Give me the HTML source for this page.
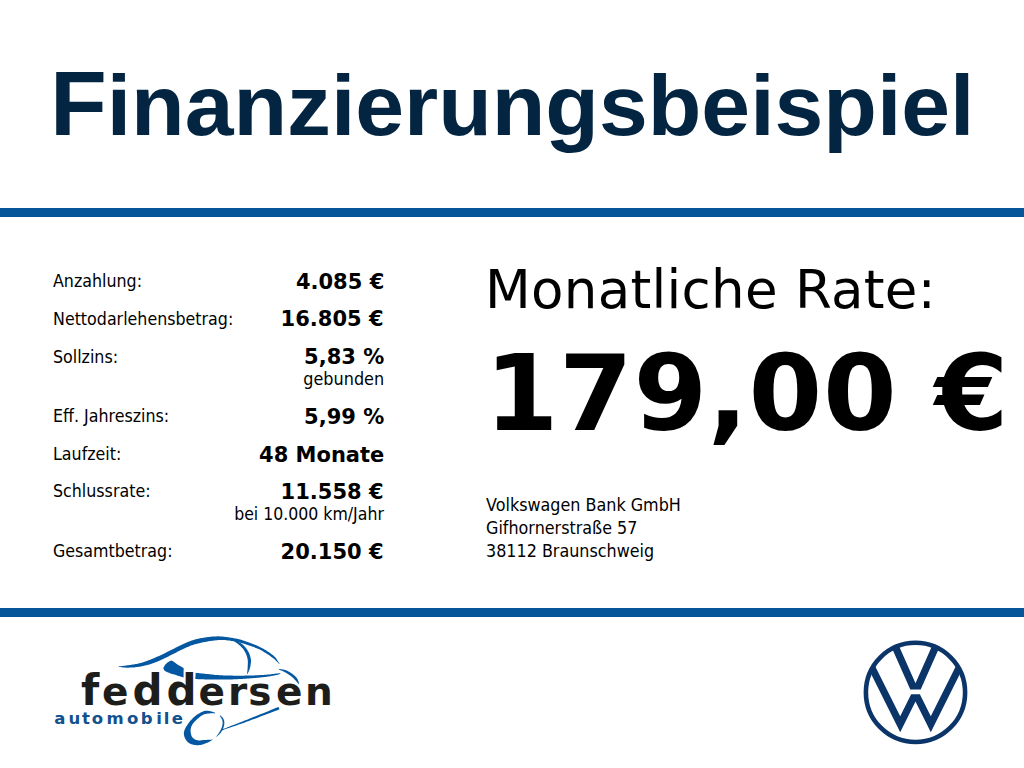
<!DOCTYPE html>
<html lang="de">
<head>
<meta charset="utf-8">
<title>Finanzierungsbeispiel</title>
<style>
html,body{margin:0;padding:0;background:#fff;}
body{width:1024px;height:768px;position:relative;overflow:hidden;font-family:"DejaVu Sans","Liberation Sans",sans-serif;color:#000;}
.abs{position:absolute;white-space:nowrap;line-height:1;}
#title{left:50px;top:58px;font-family:"Liberation Sans",Arial,sans-serif;font-size:86px;font-weight:700;color:#032542;transform:scaleX(1.0201);transform-origin:6px 0;}
.line{position:absolute;left:0;width:1024px;height:9px;background:#06549a;}
.lab{position:absolute;left:53px;font-size:18.5px;font-family:"DejaVu Sans",sans-serif;line-height:1;white-space:nowrap;transform:scaleX(0.8583);transform-origin:0 0;}
.val{position:absolute;right:640px;font-size:20.5px;font-weight:700;line-height:1;white-space:nowrap;transform:scaleX(1.024);transform-origin:100% 0;}
.sub{position:absolute;right:640px;font-size:18.5px;font-family:"DejaVu Sans",sans-serif;line-height:1;white-space:nowrap;transform:scaleX(0.8682);transform-origin:100% 0;}
#rate{left:485px;top:263px;font-size:53px;letter-spacing:0.3px;}
#amount{left:484.7px;top:341px;font-size:106px;font-weight:700;letter-spacing:0.6px;}
.addr{position:absolute;left:486px;font-size:18.5px;font-family:"DejaVu Sans",sans-serif;line-height:1;white-space:nowrap;transform:scaleX(0.8637);transform-origin:0 0;}
</style>
</head>
<body>
<div id="title" class="abs"><span style="font-size:1.06em">F</span>inanzierungsbeispiel</div>
<div class="line" style="top:208px"></div>
<div class="lab" style="top:272.0px">Anzahlung:</div>
<div class="val" style="top:271.5px">4.085 €</div>
<div class="lab" style="top:310.0px">Nettodarlehensbetrag:</div>
<div class="val" style="top:309px">16.805 €</div>
<div class="lab" style="top:347.5px">Sollzins:</div>
<div class="val" style="top:346.5px">5,83 %</div>
<div class="sub" style="top:370px">gebunden</div>
<div class="lab" style="top:407.0px">Eff. Jahreszins:</div>
<div class="val" style="top:406.5px">5,99 %</div>
<div class="lab" style="top:444.5px">Laufzeit:</div>
<div class="val" style="top:444.5px">48 Monate</div>
<div class="lab" style="top:482.0px">Schlussrate:</div>
<div class="val" style="top:481.5px">11.558 €</div>
<div class="sub" style="top:505px;transform:scaleX(0.8511)">bei 10.000 km/Jahr</div>
<div class="lab" style="top:542.0px">Gesamtbetrag:</div>
<div class="val" style="top:541.5px">20.150 €</div>
<div id="rate" class="abs">Monatliche Rate:</div>
<div id="amount" class="abs">179,00 €</div>
<div class="addr" style="top:496px">Volkswagen Bank GmbH</div>
<div class="addr" style="top:518.5px">Gifhornerstraße 57</div>
<div class="addr" style="top:542px">38112 Braunschweig</div>
<div class="line" style="top:608px"></div>
<svg style="position:absolute;left:0;top:620px" width="360" height="148" viewBox="0 620 360 148">
<g fill="#0458a2">
<path d="M118.6,666.8 L119.3,666.9 L120.1,667.0 L120.8,667.1 L121.5,667.2 L122.2,667.3 L122.9,667.4 L123.7,667.5 L124.4,667.6 L125.2,667.6 L126.0,667.7 L126.9,667.7 L127.8,667.7 L128.7,667.7 L129.7,667.6 L130.8,667.6 L131.8,667.5 L132.9,667.5 L134.0,667.4 L135.1,667.2 L136.3,667.1 L137.4,667.0 L138.5,666.8 L139.7,666.7 L140.8,666.5 L141.9,666.3 L143.0,666.0 L144.1,665.8 L145.1,665.5 L146.2,665.3 L147.3,665.0 L148.4,664.7 L149.5,664.4 L150.6,664.0 L151.7,663.7 L152.8,663.3 L153.9,663.0 L155.0,662.6 L156.1,662.1 L157.2,661.7 L158.2,661.2 L159.3,660.7 L160.4,660.3 L161.5,659.8 L162.5,659.3 L163.6,658.7 L164.7,658.2 L165.7,657.7 L166.8,657.2 L167.8,656.7 L168.9,656.2 L170.0,655.6 L171.1,655.1 L172.1,654.6 L173.2,654.0 L174.2,653.5 L175.3,652.9 L176.3,652.4 L177.4,651.8 L178.4,651.3 L179.5,650.8 L180.5,650.3 L181.6,649.8 L182.7,649.3 L183.7,648.8 L184.8,648.3 L185.8,647.8 L186.8,647.3 L187.9,646.9 L188.9,646.4 L189.9,646.0 L190.9,645.6 L191.9,645.2 L193.0,644.9 L194.0,644.6 L195.0,644.2 L196.0,644.0 L197.1,643.7 L198.1,643.4 L199.1,643.2 L200.1,642.9 L201.2,642.7 L202.2,642.5 L203.3,642.3 L204.3,642.1 L205.3,641.9 L206.4,641.7 L207.5,641.5 L208.6,641.3 L209.6,641.1 L210.7,641.0 L211.8,640.8 L212.8,640.7 L213.8,640.5 L214.8,640.4 L215.8,640.3 L216.7,640.2 L217.6,640.2 L218.4,640.1 L219.2,640.1 L219.9,640.0 L220.6,640.0 L221.3,640.0 L222.0,640.0 L222.7,640.0 L223.4,640.0 L224.2,640.1 L225.0,640.1 L225.8,640.2 L226.7,640.3 L227.6,640.4 L228.6,640.5 L229.5,640.6 L230.5,640.7 L231.5,640.9 L232.5,641.0 L233.4,641.2 L234.4,641.4 L235.4,641.6 L236.4,641.8 L237.4,642.0 L238.3,642.2 L239.3,642.4 L240.2,642.7 L241.2,642.9 L242.2,643.2 L243.1,643.5 L244.1,643.8 L245.1,644.1 L246.0,644.4 L247.0,644.7 L248.0,645.0 L248.9,645.4 L249.9,645.7 L250.9,646.1 L251.9,646.4 L252.9,646.8 L253.9,647.1 L254.8,647.5 L255.8,647.9 L256.8,648.3 L257.7,648.7 L258.7,649.1 L259.7,649.6 L260.6,650.1 L261.6,650.6 L262.6,651.1 L263.6,651.7 L264.7,652.4 L265.7,653.0 L266.7,653.7 L267.7,654.3 L268.7,655.0 L269.7,655.6 L270.6,656.3 L271.4,656.9 L272.2,657.5 L272.9,658.0 L273.6,658.5 L274.2,659.1 L274.8,659.6 L275.4,660.1 L275.9,660.7 L276.5,661.2 L277.0,661.7 L277.6,662.3 L278.1,662.8 L278.7,663.4 L279.2,663.9 L279.6,663.7 L279.1,663.0 L278.7,662.4 L278.2,661.7 L277.8,661.1 L277.4,660.4 L277.0,659.8 L276.6,659.1 L276.1,658.5 L275.6,657.8 L275.0,657.1 L274.3,656.4 L273.6,655.7 L272.8,655.1 L271.9,654.4 L271.0,653.7 L270.1,653.0 L269.1,652.3 L268.0,651.7 L267.0,651.0 L265.9,650.3 L264.9,649.7 L263.8,649.1 L262.8,648.5 L261.8,647.9 L260.8,647.4 L259.8,646.9 L258.8,646.4 L257.8,646.0 L256.8,645.5 L255.8,645.1 L254.8,644.7 L253.8,644.3 L252.8,643.9 L251.8,643.6 L250.8,643.2 L249.9,642.8 L248.9,642.5 L247.9,642.1 L246.9,641.8 L245.9,641.4 L245.0,641.1 L244.0,640.7 L243.0,640.4 L242.0,640.1 L241.0,639.8 L240.0,639.6 L239.0,639.3 L238.0,639.0 L237.0,638.8 L236.0,638.6 L235.0,638.4 L234.0,638.2 L233.0,638.0 L231.9,637.8 L230.9,637.7 L229.9,637.5 L229.0,637.4 L228.0,637.2 L227.1,637.1 L226.2,637.0 L225.3,636.9 L224.5,636.8 L223.7,636.7 L222.9,636.6 L222.2,636.5 L221.4,636.5 L220.7,636.4 L219.9,636.4 L219.1,636.3 L218.3,636.3 L217.4,636.3 L216.5,636.4 L215.5,636.4 L214.5,636.4 L213.5,636.5 L212.4,636.6 L211.3,636.7 L210.2,636.8 L209.1,636.9 L207.9,637.1 L206.8,637.2 L205.7,637.4 L204.6,637.6 L203.5,637.7 L202.4,637.9 L201.3,638.1 L200.3,638.3 L199.2,638.6 L198.1,638.8 L197.0,639.1 L195.9,639.3 L194.8,639.6 L193.7,639.9 L192.7,640.3 L191.6,640.6 L190.5,641.0 L189.3,641.4 L188.2,641.8 L187.2,642.3 L186.1,642.7 L185.0,643.2 L183.9,643.7 L182.8,644.2 L181.8,644.7 L180.7,645.2 L179.6,645.8 L178.6,646.3 L177.5,646.8 L176.5,647.3 L175.4,647.8 L174.3,648.4 L173.2,648.9 L172.2,649.5 L171.1,650.0 L170.1,650.5 L169.0,651.1 L168.0,651.6 L166.9,652.1 L165.9,652.7 L164.8,653.2 L163.8,653.7 L162.7,654.2 L161.7,654.7 L160.6,655.2 L159.6,655.7 L158.5,656.2 L157.5,656.6 L156.4,657.1 L155.4,657.6 L154.4,658.0 L153.3,658.4 L152.3,658.8 L151.3,659.3 L150.3,659.7 L149.2,660.1 L148.2,660.5 L147.2,660.8 L146.2,661.2 L145.1,661.6 L144.1,661.9 L143.1,662.2 L142.1,662.6 L141.1,662.9 L140.0,663.1 L139.0,663.4 L138.0,663.6 L136.9,663.9 L135.8,664.1 L134.7,664.2 L133.6,664.4 L132.6,664.6 L131.5,664.7 L130.5,664.9 L129.5,665.0 L128.5,665.2 L127.6,665.3 L126.7,665.4 L125.9,665.5 L125.1,665.7 L124.4,665.7 L123.7,665.8 L122.9,665.9 L122.2,666.0 L121.5,666.1 L120.8,666.2 L120.1,666.2 L119.3,666.3 L118.6,666.4Z"/>
<path d="M234.2,641.1 L234.7,641.5 L235.3,642.0 L235.9,642.4 L236.5,642.8 L237.0,643.3 L237.6,643.7 L238.2,644.1 L238.7,644.5 L239.2,645.0 L239.7,645.4 L240.2,645.8 L240.6,646.3 L241.1,646.7 L241.5,647.2 L241.9,647.7 L242.4,648.1 L242.8,648.6 L243.2,649.1 L243.5,649.6 L243.9,650.1 L244.2,650.7 L244.6,651.2 L244.9,651.7 L245.2,652.2 L245.5,652.8 L245.7,653.3 L246.0,653.9 L246.2,654.5 L246.5,655.1 L246.7,655.7 L246.9,656.3 L247.1,656.9 L247.2,657.5 L247.4,658.1 L247.5,658.7 L247.6,659.3 L247.7,659.8 L247.8,660.4 L247.8,660.9 L247.8,661.5 L247.9,662.1 L247.9,662.7 L247.8,663.3 L247.8,663.9 L247.8,664.5 L247.8,665.1 L247.7,665.7 L247.7,666.3 L247.7,666.9 L247.7,667.5 L247.6,668.1 L247.6,668.7 L247.5,669.3 L247.5,670.0 L247.4,670.6 L247.3,671.2 L247.3,671.8 L247.2,672.5 L247.2,673.1 L247.1,673.7 L247.7,673.9 L247.9,673.3 L248.1,672.7 L248.4,672.1 L248.6,671.5 L248.9,671.0 L249.1,670.4 L249.3,669.8 L249.6,669.2 L249.8,668.6 L250.0,667.9 L250.1,667.3 L250.3,666.7 L250.4,666.0 L250.5,665.4 L250.6,664.8 L250.7,664.1 L250.8,663.5 L250.9,662.8 L250.9,662.2 L251.0,661.5 L251.0,660.8 L250.9,660.1 L250.9,659.4 L250.8,658.7 L250.7,658.1 L250.5,657.4 L250.3,656.7 L250.1,656.0 L249.9,655.3 L249.7,654.6 L249.4,654.0 L249.1,653.3 L248.8,652.6 L248.5,652.0 L248.2,651.4 L247.8,650.8 L247.4,650.2 L247.1,649.6 L246.7,649.0 L246.3,648.4 L245.8,647.9 L245.4,647.3 L244.9,646.8 L244.4,646.3 L244.0,645.8 L243.4,645.3 L242.9,644.8 L242.4,644.3 L241.8,643.9 L241.2,643.5 L240.6,643.1 L239.9,642.7 L239.3,642.4 L238.6,642.0 L238.0,641.7 L237.4,641.4 L236.7,641.1 L236.1,640.8 L235.4,640.4 L234.8,640.1Z"/>
<path d="M163.2,668.2 L163.5,667.7 L163.8,667.2 L164.1,666.6 L164.4,666.1 L164.7,665.6 L165.0,665.1 L165.3,664.6 L165.7,664.2 L166.1,663.8 L166.5,663.4 L167.0,663.0 L167.4,662.6 L167.9,662.3 L168.3,662.0 L168.8,661.7 L169.2,661.5 L169.6,661.3 L169.9,661.1 L170.2,660.9 L170.6,660.8 L170.9,660.7 L171.2,660.6 L171.6,660.7 L172.1,660.8 L172.6,661.0 L173.2,661.4 L173.8,661.8 L174.5,662.3 L175.1,662.8 L175.8,663.3 L176.4,663.8 L177.0,664.2 L177.6,664.6 L178.1,664.9 L178.6,665.2 L179.1,665.5 L179.6,665.8 L180.1,666.1 L180.6,666.3 L181.0,666.6 L181.4,666.8 L181.8,667.1 L182.1,667.3 L182.4,667.5 L182.7,667.6 L183.1,667.8 L183.4,668.0 L183.7,668.2 L183.7,677.5 L182.9,677.2 L182.0,677.0 L181.2,676.7 L180.4,676.5 L179.6,676.2 L178.7,675.9 L177.9,675.7 L177.0,675.4 L176.1,675.1 L175.1,674.8 L174.2,674.5 L173.2,674.2 L172.2,674.0 L171.3,673.7 L170.4,673.4 L169.6,673.1 L168.9,672.8 L168.2,672.6 L167.5,672.3 L166.9,672.1 L166.4,671.8 L165.9,671.6 L165.4,671.3 L165.0,671.0 L164.6,670.7 L164.4,670.3 L164.1,670.0 L163.9,669.6 L163.8,669.3 L163.6,668.9 L163.4,668.6 L163.2,668.2Z"/>
<path d="M195.2,679.1 L196.2,679.1 L197.1,679.1 L198.1,679.2 L199.0,679.2 L200.0,679.2 L201.0,679.2 L201.9,679.3 L202.9,679.3 L203.9,679.3 L204.9,679.4 L205.8,679.4 L206.8,679.4 L207.8,679.4 L208.7,679.4 L209.7,679.5 L210.6,679.5 L211.5,679.5 L212.5,679.5 L213.5,679.6 L214.5,679.6 L215.6,679.6 L216.7,679.6 L218.0,679.6 L219.2,679.6 L220.6,679.6 L222.1,679.6 L223.6,679.5 L225.2,679.5 L226.9,679.5 L228.6,679.4 L230.3,679.4 L232.0,679.4 L233.8,679.3 L235.5,679.2 L237.2,679.2 L238.8,679.1 L240.5,679.0 L242.2,678.9 L243.9,678.8 L245.7,678.7 L247.4,678.6 L249.2,678.5 L250.9,678.3 L252.5,678.2 L254.1,678.1 L255.7,677.9 L257.1,677.8 L258.5,677.7 L259.7,677.6 L260.9,677.5 L262.0,677.3 L263.1,677.2 L264.1,677.1 L265.0,677.0 L266.0,676.9 L266.8,676.7 L267.7,676.6 L268.5,676.5 L269.3,676.4 L270.1,676.2 L270.9,676.1 L271.7,676.0 L272.5,675.8 L273.2,675.7 L274.0,675.5 L274.7,675.4 L275.3,675.3 L275.9,675.1 L276.5,675.0 L277.1,674.9 L277.6,674.7 L278.0,674.6 L278.4,674.5 L278.7,674.5 L279.0,674.4 L279.2,674.3 L279.4,674.2 L279.6,674.2 L279.7,674.1 L279.9,674.1 L280.0,674.0 L280.2,673.9 L280.3,673.9 L280.5,673.8 L280.5,673.4 L280.3,673.4 L280.1,673.4 L279.9,673.4 L279.8,673.3 L279.6,673.3 L279.5,673.3 L279.3,673.3 L279.1,673.3 L278.8,673.3 L278.5,673.3 L278.2,673.3 L277.8,673.4 L277.3,673.4 L276.8,673.5 L276.3,673.5 L275.7,673.6 L275.0,673.7 L274.4,673.8 L273.7,673.9 L273.0,674.0 L272.2,674.1 L271.5,674.2 L270.7,674.3 L269.9,674.4 L269.1,674.4 L268.3,674.5 L267.4,674.6 L266.6,674.7 L265.7,674.7 L264.8,674.8 L263.9,674.9 L262.9,675.0 L261.8,675.0 L260.7,675.1 L259.6,675.1 L258.3,675.2 L257.0,675.3 L255.5,675.3 L254.0,675.4 L252.4,675.4 L250.7,675.5 L249.0,675.5 L247.3,675.6 L245.6,675.6 L243.8,675.7 L242.1,675.7 L240.4,675.7 L238.8,675.7 L237.1,675.7 L235.4,675.7 L233.7,675.7 L232.0,675.6 L230.3,675.6 L228.6,675.6 L226.9,675.5 L225.3,675.5 L223.7,675.4 L222.2,675.3 L220.7,675.3 L219.4,675.2 L218.1,675.1 L216.9,675.0 L215.8,675.0 L214.8,674.9 L213.8,674.8 L212.8,674.6 L211.9,674.5 L211.0,674.4 L210.0,674.3 L209.1,674.2 L208.2,674.1 L207.2,674.0 L206.2,673.9 L205.2,673.8 L204.2,673.7 L203.3,673.6 L202.3,673.5 L201.3,673.4 L200.4,673.3 L199.4,673.2 L198.5,673.1 L197.5,673.0 L196.6,672.9 L195.6,672.8Z"/>
<path d="M278.9,669.4 L279.4,669.7 L280.0,669.9 L280.5,670.2 L281.0,670.4 L281.5,670.6 L282.0,670.8 L282.5,671.1 L283.0,671.3 L283.5,671.6 L284.0,671.8 L284.5,672.1 L285.0,672.3 L285.5,672.6 L286.1,672.9 L286.6,673.3 L287.2,673.6 L287.8,674.0 L288.3,674.3 L288.9,674.7 L289.4,675.0 L290.0,675.4 L290.5,675.7 L291.0,676.1 L291.4,676.4 L291.8,676.8 L292.2,677.1 L292.6,677.4 L293.0,677.7 L293.3,678.1 L293.6,678.4 L293.9,678.7 L294.2,679.0 L294.5,679.4 L294.8,679.7 L295.1,680.0 L295.4,680.3 L295.7,680.6 L296.0,680.9 L296.3,681.2 L296.5,681.6 L296.8,681.9 L297.1,682.2 L297.3,682.6 L297.6,682.9 L297.9,683.3 L298.1,683.6 L298.4,684.0 L298.7,684.3 L299.1,684.1 L299.0,683.7 L298.9,683.2 L298.8,682.8 L298.7,682.4 L298.6,682.0 L298.5,681.5 L298.3,681.1 L298.2,680.7 L298.0,680.2 L297.8,679.8 L297.6,679.3 L297.4,678.9 L297.1,678.5 L296.8,678.1 L296.5,677.7 L296.2,677.3 L295.9,676.9 L295.5,676.5 L295.1,676.2 L294.7,675.8 L294.3,675.4 L293.9,675.1 L293.5,674.7 L293.0,674.4 L292.5,674.0 L292.0,673.6 L291.4,673.2 L290.9,672.9 L290.3,672.5 L289.7,672.1 L289.1,671.8 L288.4,671.4 L287.8,671.1 L287.2,670.8 L286.6,670.5 L286.0,670.3 L285.4,670.0 L284.8,669.9 L284.2,669.7 L283.6,669.6 L283.0,669.5 L282.4,669.4 L281.9,669.3 L281.3,669.3 L280.8,669.2 L280.2,669.1 L279.6,669.1 L279.1,669.0Z"/>
<path d="M221.7,730.4 L223.3,729.9 L224.8,729.3 L226.3,728.8 L227.9,728.3 L229.4,727.8 L230.9,727.3 L232.4,726.8 L234.0,726.2 L235.5,725.7 L237.1,725.2 L238.7,724.6 L240.3,724.0 L241.9,723.5 L243.6,722.9 L245.3,722.2 L247.1,721.6 L248.9,720.9 L250.6,720.3 L252.4,719.6 L254.1,719.0 L255.8,718.4 L257.4,717.8 L258.9,717.2 L260.4,716.6 L261.8,716.1 L263.2,715.6 L264.6,715.1 L265.9,714.6 L267.2,714.1 L268.4,713.6 L269.6,713.2 L270.7,712.7 L271.7,712.3 L272.7,712.0 L273.6,711.6 L274.5,711.3 L275.2,711.0 L275.8,710.8 L276.4,710.6 L276.8,710.4 L277.2,710.3 L277.5,710.2 L277.8,710.1 L278.1,710.0 L278.4,709.8 L278.7,709.7 L279.1,709.6 L279.5,709.5 L278.5,706.9 L278.1,707.1 L277.8,707.2 L277.5,707.3 L277.2,707.4 L276.9,707.6 L276.6,707.7 L276.3,707.8 L275.9,708.0 L275.4,708.1 L274.9,708.3 L274.3,708.6 L273.5,708.9 L272.7,709.2 L271.8,709.6 L270.8,710.0 L269.8,710.4 L268.7,710.9 L267.5,711.4 L266.3,711.9 L265.0,712.4 L263.7,712.9 L262.4,713.5 L261.0,714.0 L259.6,714.6 L258.1,715.2 L256.6,715.8 L255.0,716.4 L253.4,717.1 L251.7,717.8 L249.9,718.5 L248.2,719.2 L246.4,719.9 L244.7,720.6 L243.0,721.2 L241.3,721.9 L239.7,722.6 L238.1,723.2 L236.6,723.8 L235.0,724.4 L233.5,725.0 L232.0,725.6 L230.5,726.1 L229.0,726.7 L227.5,727.3 L226.0,727.9 L224.5,728.5 L223.0,729.0 L221.5,729.6Z"/>
<path d="M215.0,712.6 L214.1,712.4 L213.2,712.1 L212.3,711.8 L211.4,711.5 L210.5,711.3 L209.6,711.1 L208.8,710.9 L208.0,710.8 L207.3,710.7 L206.6,710.7 L206.0,710.7 L205.4,710.7 L204.9,710.8 L204.2,711.0 L203.6,711.2 L202.8,711.5 L201.9,711.9 L201.0,712.3 L200.0,712.9 L199.0,713.4 L198.0,714.1 L196.9,714.7 L195.9,715.5 L195.0,716.2 L194.1,717.0 L193.2,717.8 L192.3,718.7 L191.4,719.7 L190.6,720.6 L189.8,721.6 L189.0,722.5 L188.3,723.5 L187.6,724.5 L187.0,725.5 L186.3,726.5 L185.7,727.5 L185.2,728.5 L184.7,729.5 L184.4,730.5 L184.1,731.4 L183.9,732.3 L183.9,733.2 L183.9,734.1 L184.0,735.0 L184.2,735.9 L184.4,736.7 L184.7,737.5 L185.0,738.3 L185.4,739.1 L185.9,739.8 L186.4,740.6 L187.0,741.3 L187.6,742.0 L188.3,742.6 L189.0,743.1 L189.8,743.6 L190.6,744.0 L191.5,744.3 L192.5,744.6 L193.5,744.8 L194.5,745.0 L195.6,745.1 L196.6,745.2 L197.6,745.2 L198.6,745.2 L199.5,745.1 L200.5,744.9 L201.5,744.7 L202.5,744.4 L203.4,744.2 L204.4,743.8 L205.4,743.5 L206.4,743.1 L207.4,742.7 L208.4,742.2 L209.3,741.7 L210.3,741.2 L211.3,740.6 L212.3,740.1 L213.3,739.6 L213.3,739.6 L212.3,739.6 L211.3,739.7 L210.3,739.7 L209.3,739.7 L208.4,739.8 L207.4,739.8 L206.4,739.9 L205.4,739.9 L204.4,740.0 L203.4,740.1 L202.4,740.2 L201.3,740.3 L200.3,740.4 L199.4,740.4 L198.5,740.4 L197.6,740.3 L196.8,740.1 L196.0,739.9 L195.3,739.6 L194.6,739.2 L193.9,738.8 L193.3,738.3 L192.8,737.8 L192.3,737.3 L191.9,736.7 L191.6,736.0 L191.3,735.3 L191.1,734.5 L190.9,733.7 L190.8,732.9 L190.7,732.1 L190.6,731.4 L190.6,730.7 L190.6,730.0 L190.7,729.3 L190.8,728.6 L190.9,728.0 L191.1,727.3 L191.3,726.6 L191.6,726.0 L191.9,725.4 L192.2,724.8 L192.5,724.3 L192.9,723.7 L193.3,723.2 L193.8,722.6 L194.3,722.0 L195.0,721.3 L195.8,720.5 L196.6,719.7 L197.6,718.8 L198.6,717.9 L199.7,717.0 L200.7,716.2 L201.8,715.5 L202.8,714.9 L203.8,714.5 L204.8,714.1 L205.9,713.9 L206.9,713.7 L207.9,713.6 L208.9,713.5 L209.8,713.4 L210.6,713.3 L211.3,713.2 L211.9,713.2 L212.5,713.2 L213.0,713.2 L213.5,713.3 L214.0,713.3 L214.5,713.4 L215.0,713.4Z"/>
<path d="M219.7,715.6 L219.9,715.9 L220.0,716.2 L220.2,716.5 L220.4,716.7 L220.6,717.0 L220.8,717.3 L221.0,717.6 L221.2,717.9 L221.3,718.1 L221.5,718.4 L221.6,718.7 L221.7,718.9 L221.9,719.2 L222.0,719.5 L222.1,719.8 L222.2,720.1 L222.3,720.4 L222.4,720.7 L222.4,721.0 L222.5,721.3 L222.6,721.6 L222.6,721.9 L222.6,722.2 L222.7,722.5 L222.6,722.9 L222.6,723.2 L222.6,723.6 L222.6,724.0 L222.5,724.4 L222.4,724.8 L222.3,725.2 L222.3,725.6 L222.2,726.0 L222.0,726.4 L221.9,726.8 L221.8,727.2 L221.7,727.6 L221.5,728.0 L221.3,728.4 L221.2,728.8 L221.0,729.3 L220.8,729.7 L220.5,730.1 L220.3,730.5 L220.1,730.9 L219.9,731.3 L219.6,731.7 L219.4,732.1 L219.2,732.5 L219.0,732.9 L218.7,733.2 L218.4,733.6 L218.2,734.0 L217.9,734.3 L217.6,734.7 L217.4,735.1 L217.1,735.4 L216.8,735.8 L216.5,736.2 L216.2,736.6 L216.6,736.8 L216.9,736.5 L217.2,736.2 L217.6,735.9 L217.9,735.6 L218.3,735.3 L218.6,735.0 L219.0,734.6 L219.3,734.3 L219.6,734.0 L220.0,733.6 L220.3,733.3 L220.6,732.9 L220.9,732.5 L221.1,732.1 L221.4,731.7 L221.7,731.3 L221.9,730.9 L222.2,730.4 L222.4,730.0 L222.6,729.5 L222.9,729.1 L223.1,728.7 L223.2,728.2 L223.4,727.8 L223.6,727.3 L223.7,726.9 L223.8,726.4 L223.9,726.0 L224.0,725.5 L224.1,725.1 L224.2,724.6 L224.3,724.2 L224.3,723.8 L224.3,723.3 L224.4,722.9 L224.3,722.5 L224.3,722.1 L224.3,721.7 L224.2,721.3 L224.2,720.9 L224.1,720.6 L224.0,720.2 L223.8,719.9 L223.7,719.5 L223.6,719.2 L223.4,718.9 L223.2,718.6 L223.1,718.3 L222.9,717.9 L222.6,717.6 L222.4,717.4 L222.2,717.1 L221.9,716.8 L221.7,716.6 L221.4,716.4 L221.1,716.1 L220.9,715.9 L220.6,715.7 L220.4,715.4 L220.1,715.2Z"/>
</g>
<text x="80.9 101.9 132.6 166.4 198.4 228.0 248.2 276.0 305.0" y="705.0" font-family="DejaVu Sans, sans-serif" font-weight="700" font-size="39" fill="#1d1d1b" stroke="#fff" stroke-width="3.5" paint-order="stroke"><tspan font-size="42">f</tspan>e<tspan font-size="42">dd</tspan>ersen</text>
<text x="54.29 68.42 82.03 91.63 106.44 126.93 140.81 156.22 163.87 171.83" y="723.9" font-family="DejaVu Sans, sans-serif" font-weight="700" font-size="16.5" fill="#12508e">automobile</text>
</svg>
<svg style="position:absolute;left:840px;top:620px" width="184" height="148" viewBox="840 620 184 148">
<defs><clipPath id="vwc"><circle cx="0" cy="0" r="49"/></clipPath></defs>
<circle cx="915.5" cy="692.4" r="49.6" fill="none" stroke="#0b3468" stroke-width="4.6"/>
<g transform="translate(915.5,692.4)" fill="#0b3468"><g clip-path="url(#vwc)">
<polygon points="-27,-52 -5.2,-2.9 5.2,-2.9 27,-52 19,-52 0,-9.2 -19,-52"/>
<polygon points="-50.2,-30 -15.3,39.8 0,9.2 15.3,39.8 50.2,-30 42.2,-30 15.3,23.8 4.35,1.9 -4.35,1.9 -15.3,23.8 -42.2,-30"/>
</g></g>
</svg>
</body>
</html>
